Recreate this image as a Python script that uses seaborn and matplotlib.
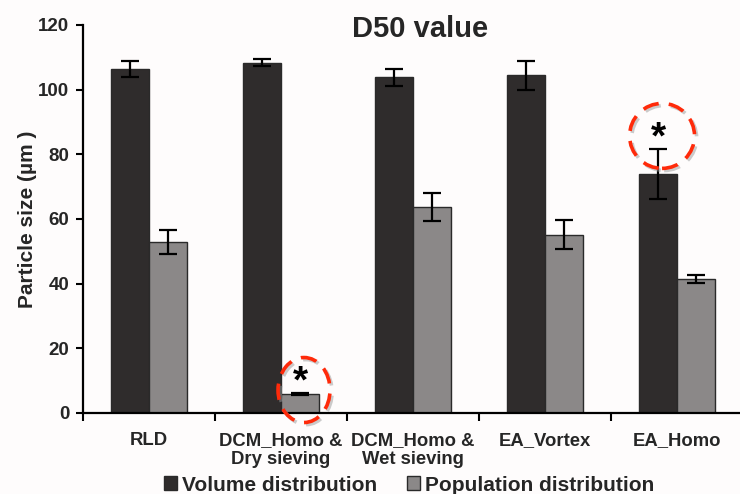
import matplotlib
matplotlib.use("Agg")
import matplotlib.pyplot as plt
import matplotlib.patheffects as pe
from matplotlib.patches import Ellipse
from matplotlib.ticker import FixedLocator
import numpy as np
import pandas as pd
import seaborn as sns

# D50 particle size per preparation method
categories = ["RLD", "DCM_Homo &\nDry sieving", "DCM_Homo &\nWet sieving", "EA_Vortex", "EA_Homo"]
series = ["Volume distribution", "Population distribution"]
volume_d50 = [106.5, 108.4, 103.8, 104.4, 74.0]
volume_err = [2.5, 1.2, 2.6, 4.6, 7.7]
population_d50 = [52.8, 5.9, 63.8, 55.2, 41.5]
population_err = [3.7, 0.4, 4.3, 4.6, 1.3]
y_ticks = [0, 20, 40, 60, 80, 100, 120]

# significant differences marked with an asterisk: (category index, series index)
significant = [(1, 1), (4, 0)]

df = pd.DataFrame({
    "group": categories * 2,
    "series": [series[0]] * len(categories) + [series[1]] * len(categories),
    "value": volume_d50 + population_d50,
    "err": volume_err + population_err,
})

sns.set_theme(style="white")
plt.rcParams["font.family"] = ["Liberation Sans", "DejaVu Sans"]
plt.rcParams["font.weight"] = "bold"

bg = "#fefcfc"
dark = "#302c2b"
light = "#8b8787"

fig = plt.figure(figsize=(7.4, 4.94), dpi=100, facecolor=bg)
ax = fig.add_axes([0.1122, 0.164, 0.892, 0.7854], facecolor=bg)

sns.barplot(data=df, x="group", y="value", hue="series", palette=[dark, light],
            width=0.576, edgecolor="#2a2a2a", linewidth=1.0, errorbar=None,
            legend=True, ax=ax)

# error bars at the bar centres
errs = [volume_err, population_err]
vals = [volume_d50, population_d50]
bar_containers = list(ax.containers)
centers = []
for k, cont in enumerate(bar_containers):
    xs = [b.get_x() + b.get_width() / 2 for b in cont]
    centers.append(xs)
    ax.errorbar(xs, vals[k], yerr=errs[k], fmt="none", ecolor="black",
                elinewidth=1.6, capsize=6.5, capthick=1.6, zorder=5)

# asterisks circled in red dashes (star offset, ring offset, ring width per mark)
mark_style = {1: (3.0, 0.8, 0.394), 0: (3.3, 4.0, 0.492)}
for ci, si in significant:
    x = centers[si][ci]
    top = vals[si][ci] + errs[si][ci]
    star_dy, ring_dy, ring_w = mark_style[si]
    ax.text(x, top + star_dy, "*", ha="center", va="center", fontsize=28,
            fontweight="bold", color="black", zorder=7)
    e = Ellipse((x + 0.03, top + ring_dy), width=ring_w, height=20.1,
                fill=False, edgecolor="#ff2a0a", linewidth=2.6,
                linestyle=(0, (4.5, 2.8)), zorder=6, clip_on=False)
    e.set_path_effects([pe.SimpleLineShadow(offset=(1.5, -1.5), shadow_color="#999999", alpha=0.5),
                        pe.Normal()])
    ax.add_patch(e)

ax.set_xlim(-0.5, 4.5)
ax.set_ylim(0, 120)
ax.set_yticks(y_ticks)
ax.set_yticklabels([str(t) for t in y_ticks], fontsize=13.5, fontweight="bold")
ax.set_xticks(range(len(categories)))
ax.set_xticklabels(categories, fontsize=13.3, fontweight="bold", linespacing=1.15)
ax.xaxis.set_minor_locator(FixedLocator(np.arange(-0.5, 4.6, 1.0)))
ax.tick_params(axis="x", which="major", length=0, pad=14)
ax.tick_params(axis="x", which="minor", length=6, width=1.5, direction="out", color="black", bottom=True)
ax.tick_params(axis="y", length=5, width=1.5, direction="out", color="black", left=True, pad=5)

ax.set_xlabel("")
ax.set_ylabel("Particle size (µm )", fontsize=15, fontweight="bold", labelpad=1)
ax.set_title("D50 value", fontsize=21, fontweight="bold", x=0.51, y=0.969, pad=0)

for s in ["top", "right"]:
    ax.spines[s].set_visible(False)
for s in ["left", "bottom"]:
    ax.spines[s].set_color("black")
    ax.spines[s].set_linewidth(1.6)

handles, labels = ax.get_legend_handles_labels()
ax.legend_.remove()
fig.legend(handles, labels, loc="center", bbox_to_anchor=(0.553, 0.018), ncol=2,
           frameon=False, prop={"size": 15, "weight": "bold"},
           handlelength=0.65, handleheight=0.65, handletextpad=0.25,
           columnspacing=1.4, borderaxespad=0)

fig.savefig("out.png", dpi=100, facecolor=bg)
